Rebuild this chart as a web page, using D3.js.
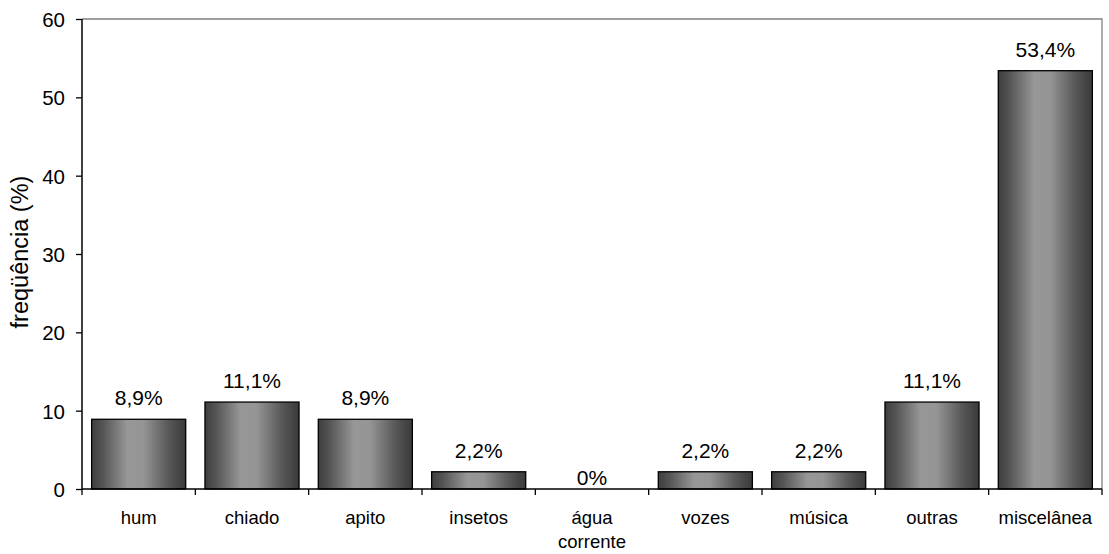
<!DOCTYPE html>
<html><head><meta charset="utf-8">
<script src="https://cdn.jsdelivr.net/npm/d3@7"></script>
<style>body{margin:0;background:#fff}svg{display:block}</style>
</head><body>
<svg id="c" width="1109" height="554"></svg>
<script>
const categories = ["hum","chiado","apito","insetos","água\ncorrente","vozes","música","outras","miscelânea"];
const values = [8.9, 11.1, 8.9, 2.2, 0, 2.2, 2.2, 11.1, 53.4];
const labels = ["8,9%","11,1%","8,9%","2,2%","0%","2,2%","2,2%","11,1%","53,4%"];
const yTicks = [0,10,20,30,40,50,60];

const svg = d3.select("#c");
const L = 82, R = 1102, T = 19, B = 489;
const font = "'Liberation Sans', Arial, sans-serif";

const x = d3.scaleBand().domain(categories).range([L, R]).paddingInner(0.17).paddingOuter(0.085);
const xb = d3.scaleBand().domain(categories).range([L, R]);
const y = d3.scaleLinear().domain([0, 60]).range([B, T]);

const defs = svg.append("defs");
const g = defs.append("linearGradient").attr("id","bar").attr("x1","0").attr("x2","1").attr("y1","0").attr("y2","0");
[[0,"#3e3e3e"],[0.12,"#555"],[0.38,"#979797"],[0.55,"#959595"],[0.8,"#5c5c5c"],[0.9,"#4a4a4a"],[1,"#3a3a3a"]]
  .forEach(([o,c]) => g.append("stop").attr("offset",o).attr("stop-color",c));

// plot frame (top/right gray)
svg.append("path").attr("d",`M${L},${T}H${R}V${B}`).attr("fill","none").attr("stroke","#808080").attr("stroke-width",1.3);

// bars
svg.selectAll("rect.b").data(values).join("rect")
  .attr("x",(d,i)=>x(categories[i])).attr("width",x.bandwidth())
  .attr("y",d=>y(d)).attr("height",d=>B - y(d))
  .attr("fill","url(#bar)").attr("stroke","#000").attr("stroke-width",1.3)
  .attr("display",d=>d>0?null:"none");

// data labels
svg.selectAll("text.v").data(values).join("text")
  .attr("x",(d,i)=>x(categories[i]) + x.bandwidth()/2)
  .attr("y",d=>y(d) - (d>0?14:4))
  .attr("text-anchor","middle").attr("font-family",font).attr("font-size",21).attr("fill","#000")
  .text((d,i)=>labels[i]);

// y axis
const ya = svg.append("g").attr("transform",`translate(${L},0)`)
  .call(d3.axisLeft(y).tickValues(yTicks).tickSize(6).tickPadding(11));
ya.select(".domain").attr("stroke","#000").attr("stroke-width",1.5).attr("d",`M0,${T}V${B}`);
ya.selectAll(".tick line").attr("stroke","#000").attr("stroke-width",1.3);
ya.selectAll(".tick text").attr("font-family",font).attr("font-size",20.5).attr("fill","#000").attr("dy","0.36em");

// x axis
const xa = svg.append("g").attr("transform",`translate(0,${B})`)
  .call(d3.axisBottom(xb).tickSize(0).tickFormat(""));
xa.select(".domain").attr("stroke","#000").attr("stroke-width",1.5).attr("d",`M${L},0H${R}`);
xa.selectAll(".tick").remove();
const edges = categories.map(c => xb(c)).concat([R]);
xa.selectAll("line.t").data(edges).join("line")
  .attr("x1",d=>d).attr("x2",d=>d).attr("y1",0).attr("y2",6).attr("stroke","#000").attr("stroke-width",1.3);
categories.forEach(c => {
  const t = svg.append("text").attr("x", xb(c) + xb.bandwidth()/2).attr("y", 524)
    .attr("text-anchor","middle").attr("font-family",font).attr("font-size",18.5).attr("fill","#000");
  c.split("\n").forEach((s,j) => t.append("tspan").attr("x", xb(c) + xb.bandwidth()/2).attr("dy", j ? 24 : 0).text(s));
});

// y title
svg.append("text").attr("transform","translate(28,252) rotate(-90)")
  .attr("text-anchor","middle").attr("font-family",font).attr("font-size",23.5).attr("fill","#000")
  .text("freqüência (%)");
</script>
</body></html>
